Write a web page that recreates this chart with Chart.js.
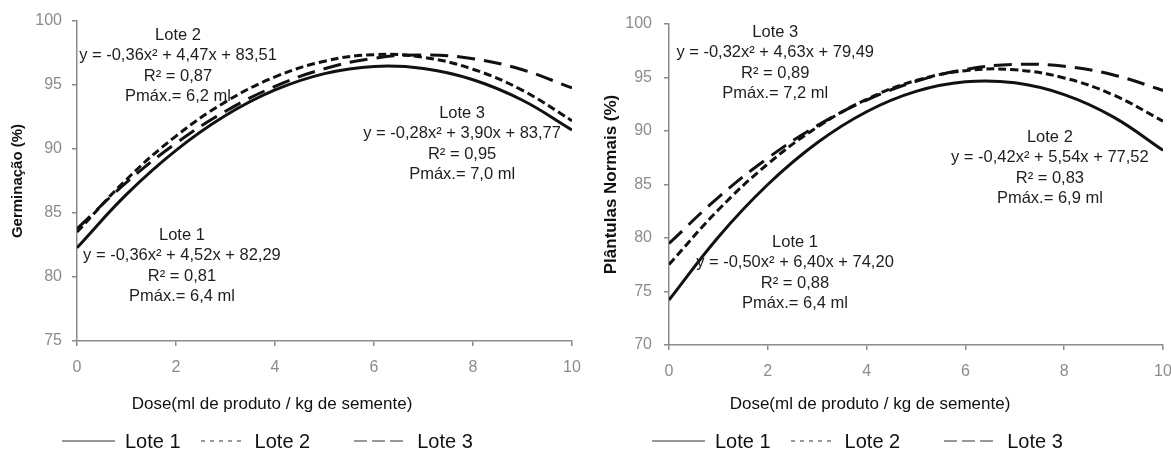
<!DOCTYPE html>
<html>
<head>
<meta charset="utf-8">
<script src="https://cdn.jsdelivr.net/npm/chart.js@4"></script>
<style>
    html, body { margin: 0; padding: 0; background: #fff; }
    #wrap { position: relative; width: 1171px; height: 452px; overflow: hidden; font-family: "Liberation Sans", Arial, sans-serif; }
    .panel { position: absolute; top: 0; height: 452px; }
    .xtitle { position: absolute; top: 394px; font-size: 17px; color: #111; white-space: nowrap; transform: translateX(-50%); }
    .legend { position: absolute; top: 430px; height: 22px; display: flex; align-items: center; font-size: 20px; color: #111; white-space: nowrap; }
    .legend svg { display: block; margin-right: 10px; }
    .legend span { margin-right: 20px; }
    .legend span.wide { margin-right: 44px; }
</style>
</head>
<body>
<div id="wrap">
    <div class="panel" style="left:0;width:585px"><canvas id="chartGerm"></canvas></div>
    <div class="panel" style="left:585px;width:586px"><canvas id="chartPlant"></canvas></div>
    <div class="xtitle" style="left:272px">Dose(ml de produto / kg de semente)</div>
    <div class="xtitle" style="left:870px">Dose(ml de produto / kg de semente)</div>
    <div class="legend" id="legendGerm" style="left:62px"></div>
    <div class="legend" id="legendPlant" style="left:652px"></div>
</div>
<script>
// doses (ml / kg) and the fitted curves
var doses = [0, 1, 2, 3, 4, 5, 6, 7, 8, 9, 10];
var lotes = ['Lote 1', 'Lote 2', 'Lote 3'];

var germLote1 = [82.29, 86.45, 89.89, 92.61, 94.61, 95.89, 96.45, 96.29, 95.41, 93.81, 91.49];
var germLote2 = [83.51, 87.62, 91.01, 93.68, 95.63, 96.86, 97.37, 97.16, 96.23, 94.58, 92.21];
var germLote3 = [83.77, 87.39, 90.45, 92.95, 94.89, 96.27, 97.09, 97.35, 97.05, 96.19, 94.77];

var plantLote1 = [74.20, 80.10, 85.00, 88.90, 91.80, 93.70, 94.60, 94.50, 93.40, 91.30, 88.20];
var plantLote2 = [77.52, 82.64, 86.92, 90.36, 92.96, 94.72, 95.64, 95.72, 94.96, 93.36, 90.92];
var plantLote3 = [79.49, 83.80, 87.47, 90.50, 92.89, 94.64, 95.75, 96.22, 96.05, 95.24, 93.79];

var germTicks = [75, 80, 85, 90, 95, 100];
var plantTicks = [70, 75, 80, 85, 90, 95, 100];
var doseTicks = [0, 2, 4, 6, 8, 10];

var germNoteText = [
    ['Lote 2', 'y = -0,36x\u00B2 + 4,47x + 83,51', 'R\u00B2 = 0,87', 'Pm\u00E1x.= 6,2 ml'],
    ['Lote 1', 'y = -0,36x\u00B2 + 4,52x + 82,29', 'R\u00B2 = 0,81', 'Pm\u00E1x.= 6,4 ml'],
    ['Lote 3', 'y = -0,28x\u00B2 + 3,90x + 83,77', 'R\u00B2 = 0,95', 'Pm\u00E1x.= 7,0 ml']
];
var plantNoteText = [
    ['Lote 3', 'y = -0,32x\u00B2 + 4,63x + 79,49', 'R\u00B2 = 0,89', 'Pm\u00E1x.= 7,2 ml'],
    ['Lote 1', 'y = -0,50x\u00B2 + 6,40x + 74,20', 'R\u00B2 = 0,88', 'Pm\u00E1x.= 6,4 ml'],
    ['Lote 2', 'y = -0,42x\u00B2 + 5,54x + 77,52', 'R\u00B2 = 0,83', 'Pm\u00E1x.= 6,9 ml']
];

var FONT = '"Liberation Sans", Arial, sans-serif';
var dashes = [[], [8, 4], [18, 9]];
var legendDashes = ['', '4 5', '13 5'];

// equation blocks, anchored in data units (centre of first line)
var noteLabels = {
    id: 'noteLabels',
    afterDatasetsDraw: function (chart, args, opts) {
        var ctx = chart.ctx;
        var xs = chart.scales.x;
        var ys = chart.scales.y;
        ctx.save();
        ctx.font = '16.5px ' + FONT;
        ctx.fillStyle = '#1e1e1e';
        ctx.textAlign = 'center';
        ctx.textBaseline = 'middle';
        (opts.notes || []).forEach(function (n) {
            var px = xs.getPixelForValue(n.x);
            var py = ys.getPixelForValue(n.y);
            n.lines.forEach(function (line, i) {
                ctx.fillText(line, px, py + i * opts.gap);
            });
        });
        ctx.restore();
    }
};

function makeSeries(values) {
    return values.map(function (v, i) { return { x: doses[i], y: v }; });
}

function buildChart(el, cfg) {
    var datasets = cfg.series.map(function (vals, i) {
        return {
            label: lotes[i],
            data: makeSeries(vals),
            borderColor: '#111',
            borderWidth: 3,
            borderDash: dashes[i],
            pointRadius: 0,
            tension: 0.4,
            fill: false
        };
    });

    return new Chart(el, {
        type: 'line',
        data: { datasets: datasets },
        plugins: [noteLabels],
        options: {
            responsive: true,
            maintainAspectRatio: false,
            animation: false,
            layout: { padding: cfg.padding },
            scales: {
                x: {
                    type: 'linear',
                    min: 0,
                    max: 10,
                    afterBuildTicks: function (s) { s.ticks = doseTicks.map(function (v) { return { value: v }; }); },
                    afterFit: function (s) {
                        s.height = cfg.xHeight;
                        s.paddingRight = 0;
                        s.paddingLeft = 0;
                    },
                    border: { color: '#8a8a8a', width: 1.5 },
                    grid: { drawOnChartArea: false, tickLength: 5, color: '#8a8a8a', lineWidth: 1.5 },
                    ticks: { color: '#8c8c8c', padding: 12, maxRotation: 0, font: { family: FONT, size: 16 } }
                },
                y: {
                    min: cfg.yTicks[0],
                    max: cfg.yTicks[cfg.yTicks.length - 1],
                    afterBuildTicks: function (s) { s.ticks = cfg.yTicks.map(function (v) { return { value: v }; }); },
                    afterFit: function (s) { s.width = 68; },
                    border: { color: '#8a8a8a', width: 1.5 },
                    grid: { drawOnChartArea: false, tickLength: 5, color: '#8a8a8a', lineWidth: 1.5 },
                    ticks: { color: '#8c8c8c', padding: cfg.yPad, font: { family: FONT, size: 16 } },
                    title: {
                        display: true,
                        text: cfg.yTitle,
                        color: '#111',
                        padding: { top: 0, bottom: 0 },
                        font: { family: FONT, size: cfg.yTitleSize, weight: 'bold' }
                    }
                }
            },
            plugins: {
                legend: { display: false },
                tooltip: { enabled: false },
                noteLabels: { notes: cfg.notes, gap: 20.5 }
            }
        }
    });
}

function buildLegend(el) {
    lotes.forEach(function (name, i) {
        var w = i === 1 ? 44 : 53;
        var svg = '<svg width="' + w + '" height="4"><line x1="0" y1="2" x2="' + w + '" y2="2" stroke="#333" stroke-width="1"' +
            (legendDashes[i] ? ' stroke-dasharray="' + legendDashes[i] + '"' : '') + '/></svg>';
        el.insertAdjacentHTML('beforeend', svg + '<span' + (i === 1 ? ' class="wide"' : '') + '>' + name + '</span>');
    });
}

buildChart(document.getElementById('chartGerm'), {
    series: [germLote1, germLote2, germLote3],
    yTicks: germTicks,
    yTitle: 'Germina\u00E7\u00E3o (%)',
    yTitleSize: 15,
    yPad: 10,
    padding: { left: 9, top: 21, right: 13, bottom: 0 },
    xHeight: 111,
    notes: [
        { x: 2.04, y: 98.9, lines: germNoteText[0] },
        { x: 2.12, y: 83.28, lines: germNoteText[1] },
        { x: 7.78, y: 92.81, lines: germNoteText[2] }
    ]
});

buildChart(document.getElementById('chartPlant'), {
    series: [plantLote1, plantLote2, plantLote3],
    yTicks: plantTicks,
    yTitle: 'Pl\u00E2ntulas Normais (%)',
    yTitleSize: 17,
    yPad: 12,
    padding: { left: 16, top: 24, right: 8, bottom: 0 },
    xHeight: 107,
    notes: [
        { x: 2.15, y: 99.25, lines: plantNoteText[0] },
        { x: 2.55, y: 79.63, lines: plantNoteText[1] },
        { x: 7.71, y: 89.44, lines: plantNoteText[2] }
    ]
});

buildLegend(document.getElementById('legendGerm'));
buildLegend(document.getElementById('legendPlant'));
</script>
</body>
</html>
